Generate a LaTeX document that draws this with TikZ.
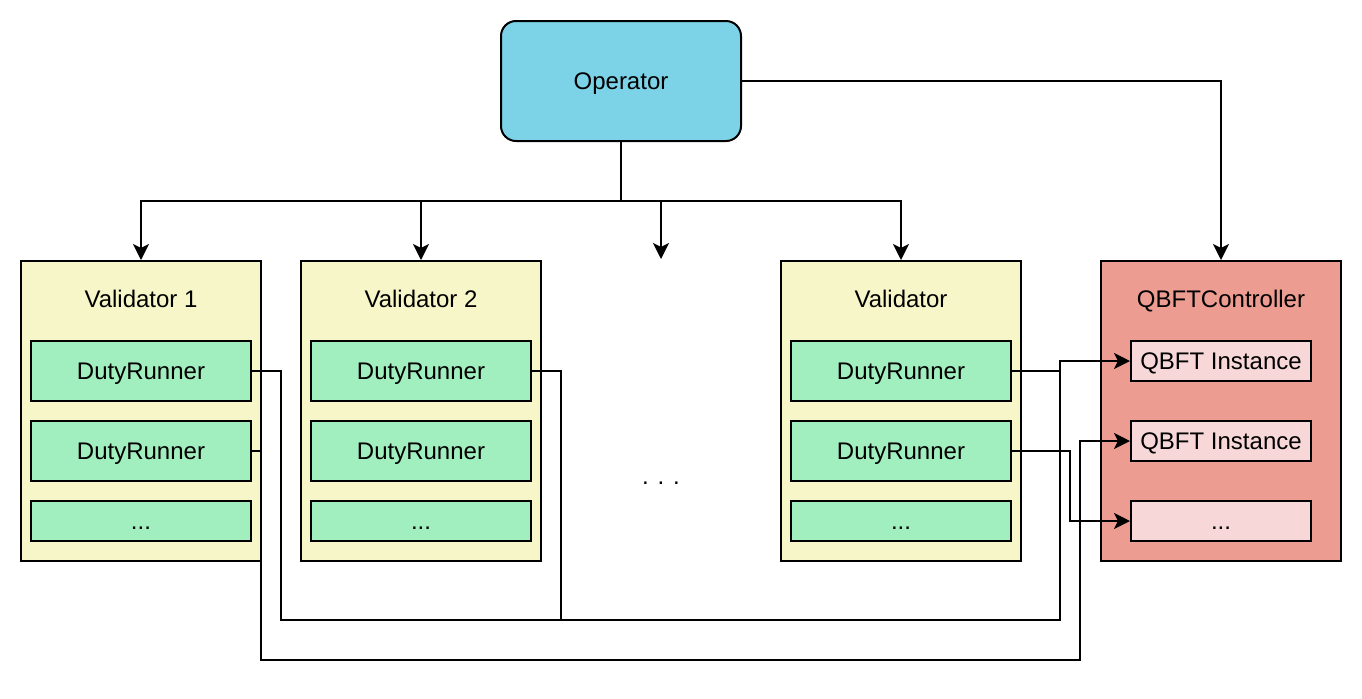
\documentclass[tikz,border=0pt]{standalone}
\usepackage{fontspec}
\setmainfont{Liberation Sans}
\usetikzlibrary{arrows.meta}
\definecolor{opblue}{HTML}{7CD3E8}
\definecolor{valyellow}{HTML}{F7F6C8}
\definecolor{runnergreen}{HTML}{A1EFBF}
\definecolor{ctrlred}{HTML}{ED9C91}
\definecolor{instpink}{HTML}{F8D7D8}
\begin{document}
\begin{tikzpicture}[x=.5pt, y=-.5pt, line width=1pt, >={Stealth[length=8pt,width=8pt,inset=2pt]},
	font=\fontsize{12}{14}\selectfont,
	every node/.style={text height=8.9pt, text depth=.1pt},
	operator/.style={draw, fill=opblue, rounded corners=7.5pt, minimum width=120pt, minimum height=60pt},
	validator/.style={draw, fill=valyellow, minimum width=120pt, minimum height=150pt},
	controller/.style={draw, fill=ctrlred, minimum width=120pt, minimum height=150pt},
	runner/.style={draw, fill=runnergreen, minimum width=110pt, minimum height=30pt},
	more/.style={draw, fill=runnergreen, minimum width=110pt, minimum height=20pt},
	instance/.style={draw, fill=instpink, minimum width=90pt, minimum height=20pt, inner sep=0pt}]
	\useasboundingbox (0,0) rectangle (1362,698);
	\node[operator] (op) at (621,81) {Operator};
	\path
		(141,411) node[validator] (v1) {}
		(421,411) node[validator] (v2) {}
		(901,411) node[validator] (vn) {}
		(1221,411) node[controller] (qc) {}
		(141,299) node (v1t) {Validator 1}
		(421,299) node (v2t) {Validator 2}
		(901,299) node (vnt) {Validator}
		(1221,299) node (qct) {QBFTController}
		(661,476) node (dots) {. . .}
		(661,259) coordinate (gap)
	;
	\path
		(141,371) node[runner] (v1r1) {DutyRunner}
		(141,451) node[runner] (v1r2) {DutyRunner}
		(141,521) node[more] (v1r3) {...}
		(421,371) node[runner] (v2r1) {DutyRunner}
		(421,451) node[runner] (v2r2) {DutyRunner}
		(421,521) node[more] (v2r3) {...}
		(901,371) node[runner] (vnr1) {DutyRunner}
		(901,451) node[runner] (vnr2) {DutyRunner}
		(901,521) node[more] (vnr3) {...}
		(1221,361) node[instance] (q1) {QBFT Instance}
		(1221,441) node[instance] (q2) {QBFT Instance}
		(1221,521) node[instance] (q3) {...}
	;
	% operator to validators
	\draw[->] (op.south) -- (621,201) -| (v1.north);
	\draw[->] (op.south) -- (621,201) -| (v2.north);
	\draw[->] (op.south) -- (621,201) -| (gap);
	\draw[->] (op.south) -- (621,201) -| (vn.north);
	\draw[->] (op.east) -| (qc.north);
	% runners to instances
	\draw[->] (v1r1.east) -| (281,620) -| (1060,361) -- (q1.west);
	\draw (v2r1.east) -| (561,620);
	\draw (vnr1.east) -- (1060,371);
	\draw[->] (v1r2.east) -| (261,660) -| (1080,441) -- (q2.west);
	\draw[->] (vnr2.east) -| (1070,521) -- (q3.west);
\end{tikzpicture}
\end{document}
